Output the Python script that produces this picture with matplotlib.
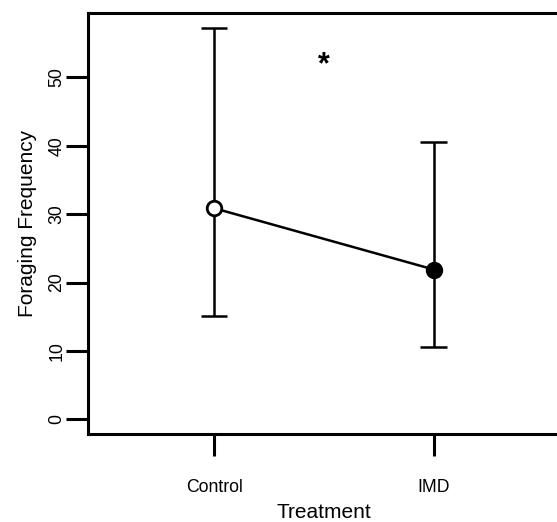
import matplotlib
matplotlib.use("Agg")
import matplotlib.pyplot as plt

categories = ["Control", "IMD"]
means = [30.85, 21.9]
upper = [57.2, 40.6]
lower = [15.1, 10.5]
yticks = [0, 10, 20, 30, 40, 50]

plt.rcParams['font.family'] = ['Liberation Sans', 'DejaVu Sans']

fig = plt.figure(figsize=(5.57, 5.22), dpi=100)
ax = fig.add_axes([87.5 / 557, (522 - 434.3) / 522, (560 - 87.5) / 557, (434.3 - 12.7) / 522])

xs = [1, 2]
lw = 1.8
for x, lo, hi in zip(xs, lower, upper):
    ax.plot([x, x], [lo, hi], color='black', lw=lw, solid_capstyle='butt', zorder=2)
    ax.plot([x - 0.06, x + 0.06], [hi, hi], color='black', lw=lw, solid_capstyle='butt', zorder=2)
    ax.plot([x - 0.06, x + 0.06], [lo, lo], color='black', lw=lw, solid_capstyle='butt', zorder=2)

ax.plot(xs, means, color='black', lw=lw, zorder=3)
ax.plot([xs[0]], [means[0]], marker='o', ms=10.5, mfc='white', mec='black', mew=2.0, zorder=4)
ax.plot([xs[1]], [means[1]], marker='o', ms=11.5, mfc='black', mec='black', mew=1.0, zorder=4)

ax.text(1.5, 51.8, "*", ha='center', va='center', fontsize=22, fontweight='bold')

ax.set_xlim(0.422, 2.576)
ax.set_ylim(-2.19, 59.44)
ax.set_xticks(xs)
ax.set_xticklabels(categories, fontsize=12.7)
ax.set_yticks(yticks)
ax.set_yticklabels([str(t) for t in yticks], fontsize=12.7, rotation=90, va='center')
ax.tick_params(axis='both', length=16, width=2.2)
ax.tick_params(axis='x', pad=16.5)
ax.tick_params(axis='y', pad=0)

for s in ['top', 'left', 'bottom', 'right']:
    ax.spines[s].set_linewidth(2.2)

ax.set_xlabel("Treatment", fontsize=15, labelpad=5)
ax.set_ylabel("Foraging Frequency", fontsize=15, labelpad=8)

fig.savefig("out.png", dpi=100)
